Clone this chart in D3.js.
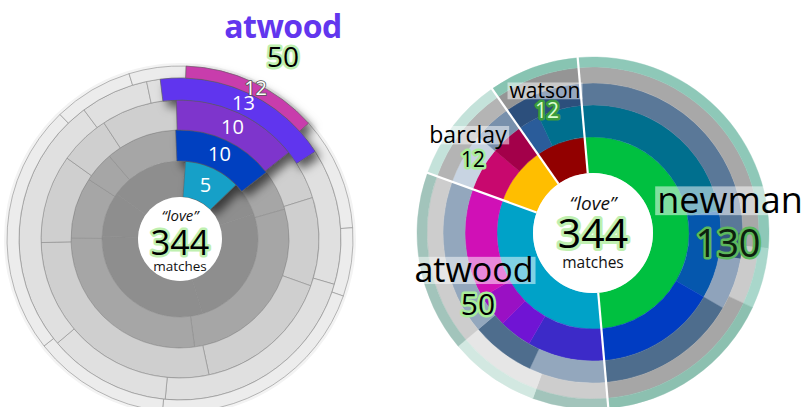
<!DOCTYPE html>
<html><head><meta charset="utf-8">
<script src="https://cdn.jsdelivr.net/npm/d3@7/dist/d3.min.js"></script>
<style>body{margin:0;background:#fff}svg{display:block}text{font-family:"Open Sans",sans-serif}</style>
</head><body><svg id="c" width="807" height="407"></svg>
<script>
// ---------------- data ----------------
const totalMatches = 344;
const centerWord = "\u201Clove\u201D";
const centerUnit = "matches";

// left chart: each ring's segments clockwise, the highlighted author first
const leftAuthor = "atwood";
const leftAuthorTotal = 50;
const leftRing1 = [5, 3, 11, 13, 4, 7];
const leftRing2 = [10, 4, 18, 18, 6, 3, 7];
const leftRing3 = [10, 4, 7, 11, 19, 7, 4, 6];
const leftRing4 = [13, 10, 16, 9, 19, 5, 1];
const leftRing5 = [12, 10, 6, 20, 12, 22, 7, 5];

// right chart: authors, their match counts, and ring segments grouped by author
const rightAuthors = ["newman", "atwood", "barclay", "watson"];
const rightTotals = [130, 50, 12, 12];
const rightRing1 = [[36], [23], [7], [6]];
const rightRing2 = [[17, 8, 11], [7, 3, 3, 10], [4, 3], [2, 4]];
const rightRing3 = [[19, 2, 4, 11], [6, 5, 12], [4, 3], [6]];
const rightRing4 = [[20, 4, 12], [5, 6, 12], [7], [6]];
const rightRing5 = [[20, 4, 12], [5, 6, 12], [7], [6]];

// ---------------- styles ----------------
const leftGreys = ["#8e8e8e", "#a6a6a6", "#cfcfcf", "#e0e0e0", "#ececec"];
const leftFocusColors = ["#14a0c8", "#0640c0", "#7e34cc", "#6036ee", "#c83cac"];
const rightColors1 = [["#00c040"], ["#00a2c8"], ["#ffbe00"], ["#920000"]];
const rightColors2 = [["#006f8e", "#0557ad", "#003cc2"], ["#3c2ac8", "#7014d4", "#9a10c4", "#d010b6"], ["#c8086e", "#a3004a"], ["#2a5c9a", "#006f8e"]];
const rightColors3 = [["#5a7898", "#34557c", "#8fa3bb", "#4e6d8d"], ["#93a7bd", "#4e6d8d", "#93a7bd"], ["#c8d4e2", "#7890ac"], ["#2c4f7c"]];
const rightColors4 = [["#a8a8a8", "#cbcbcb", "#a6a6a6"], ["#cdcdcd", "#e6e6e6", "#cdcdcd"], ["#b4b4b4"], ["#959595"]];
const rightColors5 = [["#8ec8b8", "#a9d7cb", "#8cc0b0"], ["#a2c4bb", "#d2e8e1", "#a2c4bb"], ["#c4e2da"], ["#88c4b2"]];

const svg = d3.select("#c");
const defs = svg.append("defs");
const f = defs.append("filter").attr("id", "sh").attr("x", "-40%").attr("y", "-40%").attr("width", "180%").attr("height", "180%");
f.append("feDropShadow").attr("dx", 5).attr("dy", 6).attr("stdDeviation", 5)
  .attr("flood-color", "#000").attr("flood-opacity", 0.6);

const deg = Math.PI / 180;
const TAU = 2 * Math.PI;

function haloText(g, txt, x, y, size, fill, stroke, sw) {
  const t = g.append("text").attr("x", x).attr("y", y).attr("text-anchor", "middle")
    .attr("font-size", size).attr("fill", fill).text(txt);
  if (stroke) t.attr("stroke", stroke).attr("stroke-width", sw).attr("stroke-linejoin", "round").attr("paint-order", "stroke");
  return t;
}

// ================= LEFT CHART =================
const L = { cx: 180, cy: 239 };
const leftRadii = [42, 78, 109, 139, 161, 173];
const leftRings = [leftRing1, leftRing2, leftRing3, leftRing4, leftRing5];
const leftFocusAngle = 25; // degrees, centre of highlighted segment
const gL = svg.append("g").attr("transform", `translate(${L.cx},${L.cy})`);
gL.append("circle").attr("r", 176).attr("fill", "#f3f3f3");

const focusArcs = [];
leftRings.forEach((vals, i) => {
  const tot = d3.sum(vals);
  const angle = d3.scaleLinear().domain([0, tot]).range([0, TAU]);
  const start = leftFocusAngle * deg - angle(vals[0]) / 2;
  const pie = d3.pie().sort(null).startAngle(start).endAngle(start + angle(tot));
  const arcs = pie(vals);
  const arc = d3.arc().innerRadius(leftRadii[i]).outerRadius(leftRadii[i + 1]);
  gL.append("g").selectAll("path").data(arcs).join("path")
    .attr("d", arc).attr("fill", leftGreys[i])
    .attr("stroke", "#8c8c8c").attr("stroke-width", 0.6);
  focusArcs.push({ arc, d: arcs[0], i, v: vals[0] });
});

const gF = gL.append("g").attr("filter", "url(#sh)");
gF.selectAll("path").data(focusArcs).join("path")
  .attr("d", o => o.arc(o.d)).attr("fill", o => leftFocusColors[o.i])
  .attr("stroke", "#5a5a5a").attr("stroke-width", 0.5);
focusArcs.forEach(o => {
  const c = o.arc.centroid(o.d);
  const t = gL.append("text").attr("x", c[0] + (o.i === 4 ? 5 : 0)).attr("y", c[1] + 7).attr("text-anchor", "middle")
    .attr("font-size", 20).attr("fill", "#fff").text(o.v);
  if (o.i === 4) t.attr("stroke", "#555").attr("stroke-width", 1.6).attr("paint-order", "stroke");
});

gL.append("circle").attr("r", leftRadii[0]).attr("fill", "#fff");
gL.append("text").attr("y", -18).attr("text-anchor", "middle").attr("font-size", 15)
  .attr("font-style", "italic").attr("fill", "#111").text(centerWord);
haloText(gL, totalMatches, 0, 16, 34, "#000", "#bff0b0", 5);
gL.append("text").attr("y", 32).attr("text-anchor", "middle").attr("font-size", 13.5)
  .attr("fill", "#111").text(centerUnit);

// author label
svg.append("text").attr("x", 283).attr("y", 38).attr("text-anchor", "middle")
  .attr("font-size", 32).attr("font-weight", 700).attr("letter-spacing", -0.5)
  .attr("fill", "#6236ee").text(leftAuthor);
haloText(svg, leftAuthorTotal, 283, 67, 28, "#000", "#bff0b0", 5);

// ================= RIGHT CHART =================
const R = { cx: 593, cy: 233 };
const rightRadii = [60, 96, 128, 150, 166, 176];
const rightRings = [rightRing1, rightRing2, rightRing3, rightRing4, rightRing5];
const rightColors = [rightColors1, rightColors2, rightColors3, rightColors4, rightColors5];
const rightStart = -5 * deg;
const gR = svg.append("g").attr("transform", `translate(${R.cx},${R.cy})`);

rightRings.forEach((groups, i) => {
  const flat = [];
  groups.forEach((vals, a) => vals.forEach((v, k) => flat.push({ v, color: rightColors[i][a][k] })));
  const tot = d3.sum(flat, d => d.v);
  const angle = d3.scaleLinear().domain([0, tot]).range([0, TAU]);
  const pie = d3.pie().sort(null).value(d => d.v).startAngle(rightStart).endAngle(rightStart + angle(tot));
  const arc = d3.arc().innerRadius(rightRadii[i]).outerRadius(rightRadii[i + 1]);
  gR.append("g").selectAll("path").data(pie(flat)).join("path")
    .attr("d", arc).attr("fill", d => d.data.color)
    .attr("stroke", d => d.data.color).attr("stroke-width", 0.4);
});

// author dividers from ring 1 totals
{
  const sums = rightRing1.map(v => d3.sum(v));
  const tot = d3.sum(sums);
  const angle = d3.scaleLinear().domain([0, tot]).range([rightStart, rightStart + TAU]);
  let acc = 0;
  const bounds = sums.map(s => { const a = angle(acc); acc += s; return a; });
  gR.append("g").selectAll("line").data(bounds).join("line")
    .attr("x1", a => rightRadii[0] * Math.sin(a)).attr("y1", a => -rightRadii[0] * Math.cos(a))
    .attr("x2", a => (rightRadii[5] + 4) * Math.sin(a)).attr("y2", a => -(rightRadii[5] + 4) * Math.cos(a))
    .attr("stroke", "#fff").attr("stroke-width", 2.2);
}

gR.append("circle").attr("r", rightRadii[0]).attr("fill", "#fff");
gR.append("text").attr("y", -23).attr("text-anchor", "middle").attr("font-size", 19)
  .attr("font-style", "italic").attr("fill", "#111").text(centerWord);
haloText(gR, totalMatches, 0, 15, 41, "#000", "#bff0b0", 6);
gR.append("text").attr("y", 35).attr("text-anchor", "middle").attr("font-size", 15.5)
  .attr("fill", "#111").text(centerUnit);

// right labels
const rightLabelPlaces = [
  { x: 730, y: 213, fs: 36, nx: 728, ny: 257, nfs: 38, nfill: "#0d200d", nstroke: "#5cb85c" },
  { x: 474, y: 282, fs: 34, nx: 478, ny: 315, nfs: 30, nfill: "#000", nstroke: "#a8ee98" },
  { x: 468, y: 143, fs: 23, nx: 473, ny: 167, nfs: 21, nfill: "#000", nstroke: "#a8ee98" },
  { x: 545, y: 98, fs: 21, nx: 547, ny: 118, nfs: 21, nfill: "#d8fcd0", nstroke: "#3c9c3c" }
];
rightAuthors.forEach((name, i) => {
  const p = rightLabelPlaces[i];
  const g = svg.append("g");
  const t = g.append("text").attr("x", p.x).attr("y", p.y).attr("text-anchor", "middle")
    .attr("font-size", p.fs).attr("fill", "#000").text(name);
  const bb = t.node().getBBox();
  g.insert("rect", "text").attr("x", bb.x - 2).attr("width", bb.width + 4)
    .attr("y", p.y - p.fs * 0.74).attr("height", p.fs * 0.8)
    .attr("fill", "#fff").attr("opacity", 0.5);
  haloText(svg, rightTotals[i], p.nx, p.ny, p.nfs, p.nfill, p.nstroke, 5);
});
</script></body></html>
